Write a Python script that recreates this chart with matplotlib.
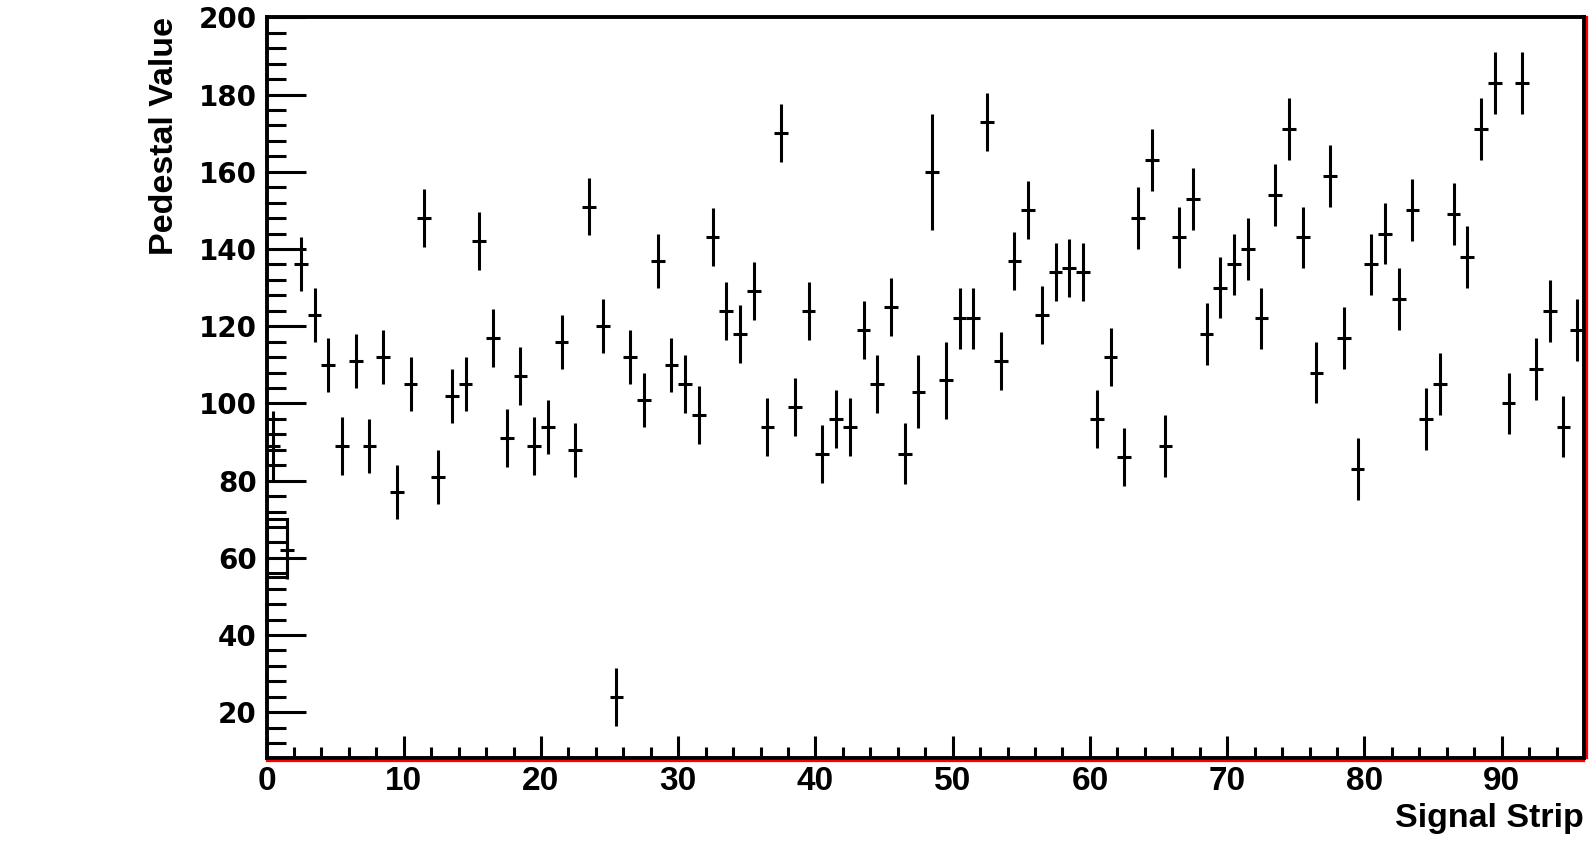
import matplotlib
matplotlib.use('Agg')
import matplotlib.pyplot as plt
import matplotlib.transforms as mtransforms
from matplotlib.patches import Rectangle
from matplotlib.ticker import MultipleLocator
import numpy as np

# strip index (bin), pedestal value and its error
strip = list(range(96))
pedestal = [89, 62, 136, 123, 110, 89, 111, 89, 112, 77,
            105, 148, 81, 102, 105, 142, 117, 91, 107, 89,
            94, 116, 88, 151, 120, 24, 112, 101, 137, 110,
            105, 97, 143, 124, 118, 129, 94, 170, 99, 124,
            87, 96, 94, 119, 105, 125, 87, 103, 160, 106,
            122, 122, 173, 111, 137, 150, 123, 134, 135, 134,
            96, 112, 86, 148, 163, 89, 143, 153, 118, 130,
            136, 140, 122, 154, 171, 143, 108, 159, 117, 83,
            136, 144, 127, 150, 96, 105, 149, 138, 171, 183,
            100, 183, 109, 124, 94, 119]
pedestal_err = [9, 7.5, 7, 7, 7, 7.5, 7, 7, 7, 7,
                7, 7.5, 7, 7, 7, 7.5, 7.5, 7.5, 7.5, 7.5,
                7, 7, 7, 7.5, 7, 7.5, 7, 7, 7, 7,
                7.5, 7.5, 7.5, 7.5, 7.5, 7.5, 7.5, 7.5, 7.5, 7.5,
                7.5, 7.5, 7.5, 7.5, 7.5, 7.5, 8, 9.5, 15, 10,
                8, 8, 7.5, 7.5, 7.5, 7.5, 7.5, 7.5, 7.5, 7.5,
                7.5, 7.5, 7.5, 8, 8, 8, 8, 8, 8, 8,
                8, 8, 8, 8, 8, 8, 8, 8, 8, 8,
                8, 8, 8, 8, 8, 8, 8, 8, 8, 8,
                8, 8, 8, 8, 8, 8]

# odd box drawn at the first strips
box_x = [0, 1.5]
box_y = [55, 70]

x_ticks = [0, 10, 20, 30, 40, 50, 60, 70, 80, 90]
y_ticks = [20, 40, 60, 80, 100, 120, 140, 160, 180, 200]

narrow = ['Liberation Sans Narrow', 'Liberation Sans', 'DejaVu Sans']

fig = plt.figure(figsize=(15.95, 8.41), dpi=100)
ax = fig.add_axes([0.1671, 0.0989, 0.826, 0.8805])

x = np.array(strip) + 0.5
ax.errorbar(x, pedestal, xerr=0.5, yerr=pedestal_err, fmt='none',
            ecolor='black', elinewidth=2.2, capsize=0)
ax.add_patch(Rectangle((box_x[0], box_y[0]), box_x[1] - box_x[0],
                       box_y[1] - box_y[0], fill=False, lw=2.2,
                       edgecolor='black'))

ax.set_xlim(0, 96)
ax.set_ylim(8.2, 200)

ax.set_xticks(x_ticks, [str(t) for t in x_ticks], family=narrow,
              fontweight='bold', fontsize=24)
ax.set_yticks(y_ticks, [str(t) for t in y_ticks], family='DejaVu Sans',
              fontweight='bold', fontsize=20)
ax.xaxis.set_minor_locator(MultipleLocator(2))
ax.yaxis.set_minor_locator(MultipleLocator(4))

ax.tick_params(axis='y', which='major', direction='in', length=28, width=2.2, pad=7)
ax.tick_params(axis='y', which='minor', direction='in', length=14, width=2.2)
ax.tick_params(axis='x', which='major', direction='in', length=16, width=2.2, pad=6)
ax.tick_params(axis='x', which='minor', direction='in', length=8, width=2.2)
ax.tick_params(top=False, right=False, which='both')

for s in ax.spines.values():
    s.set_linewidth(2.8)
    s.set_color('black')

# red outer edges of bottom and right frame
tb = mtransforms.offset_copy(ax.transAxes, fig=fig, x=0, y=-3, units='dots')
ax.plot([0, 1], [0, 0], color='red', lw=1.6, transform=tb, clip_on=False)
tr = mtransforms.offset_copy(ax.transAxes, fig=fig, x=3, y=0, units='dots')
ax.plot([1, 1], [0, 1], color='red', lw=1.6, transform=tr, clip_on=False)

ax.set_ylabel('Pedestal Value', family=narrow, fontweight='bold', fontsize=24.5,
              loc='top')
ax.yaxis.set_label_coords(-0.066, 1.0)
ax.set_xlabel('Signal Strip', family=narrow, fontweight='bold', fontsize=24.5,
              loc='right')
ax.xaxis.set_label_coords(1.0, -0.061)

fig.savefig('out.png', dpi=100)
